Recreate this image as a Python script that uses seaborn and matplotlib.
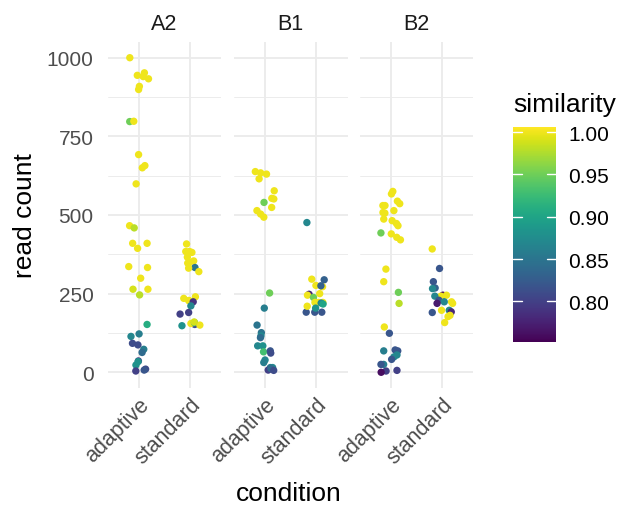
import numpy as np
import pandas as pd
import matplotlib
matplotlib.use("Agg")
import matplotlib.pyplot as plt
import seaborn as sns
from matplotlib.colors import Normalize
from matplotlib.cm import ScalarMappable
from matplotlib.ticker import MultipleLocator

# ---------------- data ----------------
groups = ["A2", "B1", "B2"]
conditions = ["adaptive", "standard"]

a2_adaptive_count = [1000, 952, 944, 940, 933, 909, 899, 797, 798, 692, 650, 657, 599,
                     466, 459, 410, 410, 394, 333, 336, 299, 264, 264, 246,
                     152, 114, 122, 73, 63, 87, 92, 36, 23, 34, 4, 10, 7]
a2_adaptive_sim = [1.0, 1.0, 1.0, 1.0, 1.0, 1.0, 1.0, 0.95, 1.0, 1.0, 1.0, 1.0, 1.0,
                   1.0, 0.98, 1.0, 1.0, 1.0, 1.0, 1.0, 1.0, 1.0, 0.99, 0.98,
                   0.91, 0.87, 0.86, 0.86, 0.84, 0.81, 0.81, 0.80, 0.88, 0.88, 0.80, 0.81, 0.82]

a2_standard_count = [408, 381, 384, 384, 366, 354, 347, 349, 333, 331, 320,
                     235, 240, 228, 228, 224, 211, 190, 185, 148, 152, 155, 158, 150, 160]
a2_standard_sim = [1.0, 1.0, 1.0, 1.0, 1.0, 1.0, 1.0, 1.0, 0.85, 1.0, 1.0,
                   1.0, 1.0, 1.0, 1.0, 0.79, 0.87, 0.80, 0.80, 0.88, 0.81, 1.0, 0.92, 1.0, 0.99]

b1_adaptive_count = [638, 634, 630, 615, 577, 551, 553, 540, 524, 514, 503, 493,
                     252, 204, 150, 126, 116, 110, 84, 84, 65, 68, 61, 39, 31, 15, 15, 7, 12, 6]
b1_adaptive_sim = [1.0, 1.0, 1.0, 1.0, 1.0, 1.0, 1.0, 0.95, 1.0, 1.0, 1.0, 1.0,
                   0.95, 0.86, 0.85, 0.85, 0.87, 0.84, 0.87, 0.88, 0.93, 0.82, 0.81,
                   0.87, 0.86, 0.86, 0.87, 0.80, 0.84, 0.81]

b1_standard_count = [476, 294, 296, 276, 272, 275, 248, 250, 245, 238,
                     222, 222, 222, 220, 217, 191, 191, 191, 204, 210]
b1_standard_sim = [0.87, 0.83, 1.0, 1.0, 1.0, 0.83, 0.78, 1.0, 1.0, 0.95,
                   1.0, 1.0, 1.0, 0.87, 0.90, 0.82, 0.82, 0.82, 0.88, 1.0]

b2_adaptive_count = [567, 575, 544, 536, 530, 530, 514, 508, 506, 482, 487, 473, 466,
                     443, 440, 429, 421, 328, 288, 254, 219, 144, 124,
                     71, 68, 68, 49, 55, 41, 25, 25, 4, 6, 0]
b2_adaptive_sim = [1.0, 1.0, 1.0, 1.0, 1.0, 1.0, 1.0, 1.0, 1.0, 1.0, 1.0, 1.0, 1.0,
                   0.95, 1.0, 1.0, 1.0, 1.0, 1.0, 0.95, 0.98, 1.0, 0.82,
                   0.82, 0.82, 0.86, 0.87, 0.87, 0.82, 0.86, 0.82, 0.80, 0.80, 0.76]

b2_standard_count = [392, 330, 288, 268, 266, 245, 245, 242, 242, 229, 224, 224,
                     219, 219, 190, 197, 192, 197, 177, 181, 158]
b2_standard_sim = [1.0, 0.82, 0.82, 0.83, 0.87, 0.76, 1.0, 1.0, 0.87, 0.82, 0.87, 1.0,
                   1.0, 0.77, 0.82, 0.87, 0.78, 1.0, 1.0, 1.0, 1.0]

y_ticks = [0, 250, 500, 750, 1000]
cbar_ticks = [0.80, 0.85, 0.90, 0.95, 1.00]

series = {
    ("A2", "adaptive"): (a2_adaptive_count, a2_adaptive_sim),
    ("A2", "standard"): (a2_standard_count, a2_standard_sim),
    ("B1", "adaptive"): (b1_adaptive_count, b1_adaptive_sim),
    ("B1", "standard"): (b1_standard_count, b1_standard_sim),
    ("B2", "adaptive"): (b2_adaptive_count, b2_adaptive_sim),
    ("B2", "standard"): (b2_standard_count, b2_standard_sim),
}
rows = []
for (g, c), (cnt, sim) in series.items():
    for v, s in zip(cnt, sim):
        rows.append({"group": g, "condition": c, "read count": v, "similarity": s})
df = pd.DataFrame(rows)

# ---------------- styling ----------------
sns.set_theme(style="white")
plt.rcParams['font.family'] = ['Liberation Sans', 'DejaVu Sans']

W, H = 623, 510
fig = plt.figure(figsize=(W / 100, H / 100), dpi=100)
fig.patch.set_facecolor("white")


def rect(l, t, r, b):
    return [l / W, 1 - b / H, (r - l) / W, (b - t) / H]


norm = Normalize(vmin=0.752, vmax=1.006)
cmap = "viridis"
grid_col = "#EBEBEB"
panel_px = [(107.5, 221.5), (233.5, 347.5), (359.5, 473.5)]

np.random.seed(7)
for i, g in enumerate(groups):
    l, r = panel_px[i]
    ax = fig.add_axes(rect(l, 43, r, 389))
    sub = df[df["group"] == g]
    sns.stripplot(data=sub, x="condition", y="read count", hue="similarity",
                  order=conditions, palette=cmap, hue_norm=norm, jitter=0.2,
                  size=5.3, linewidth=0, legend=False, ax=ax, zorder=3)
    ax.set_xlim(-0.6, 1.6)
    ax.set_ylim(-50, 1050)
    ax.set_yticks(y_ticks)
    ax.yaxis.set_minor_locator(MultipleLocator(125))
    ax.grid(True, which="major", color=grid_col, lw=1.3, zorder=0)
    ax.grid(True, which="minor", axis="y", color=grid_col, lw=0.65, zorder=0)
    ax.set_axisbelow(True)
    for sp in ax.spines.values():
        sp.set_visible(False)
    ax.set_xlabel("")
    ax.set_ylabel("")
    ax.tick_params(axis="both", which="both", length=0, labelsize=15, labelcolor="#4D4D4D")
    ax.tick_params(axis="y", pad=10)
    ax.tick_params(axis="x", pad=4, labelsize=15.5)
    ax.set_xticks([0, 1])
    ax.set_xticklabels(conditions, rotation=45, ha="right", va="top",
                       rotation_mode="anchor")
    if i > 0:
        ax.set_yticklabels([])
    ax.set_title(g, fontsize=15.5, color="#1A1A1A", pad=9)

# axis titles
fig.text(25.5 / W, 1 - 216 / H, "read count", rotation=90, ha="center", va="center",
         fontsize=19, color="black")
fig.text(289 / W, 1 - 494 / H, "condition", ha="center", va="center",
         fontsize=19, color="black")

# colour bar legend
cax = fig.add_axes(rect(513, 128, 556, 343))
cb = fig.colorbar(ScalarMappable(norm=norm, cmap=cmap), cax=cax, ticks=cbar_ticks)
cb.outline.set_visible(False)
cax.tick_params(length=0, pad=9, labelsize=15, labelcolor="black")
cax.set_yticklabels([f"{t:.2f}" for t in cbar_ticks])
for t in cbar_ticks:
    cax.plot([0, 0.2], [t, t], transform=cax.get_yaxis_transform(), color="white", lw=1)
    cax.plot([0.8, 1.0], [t, t], transform=cax.get_yaxis_transform(), color="white", lw=1)
fig.text(513 / W, 1 - 112 / H, "similarity", ha="left", va="baseline",
         fontsize=19, color="black")

fig.savefig("out.png", dpi=100, facecolor="white")
